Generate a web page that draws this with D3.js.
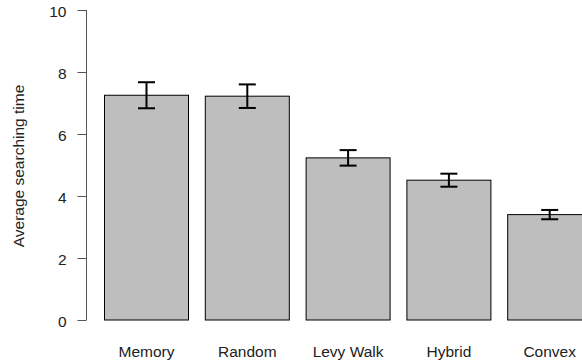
<!DOCTYPE html>
<html>
<head>
<meta charset="utf-8">
<script src="https://cdn.jsdelivr.net/npm/d3@7"></script>
<style>
  html, body { margin: 0; padding: 0; background: #fff; }
  svg { display: block; }
  text { font-family: "Liberation Sans", Arial, sans-serif; }
</style>
</head>
<body>
<script>
// Search strategies and their mean searching time with standard error
const categories = ["Memory", "Random", "Levy Walk", "Hybrid", "Convex"];
const means = [7.25, 7.22, 5.23, 4.51, 3.40];
const errors = [0.42, 0.38, 0.25, 0.21, 0.15];
const yTicks = [0, 2, 4, 6, 8, 10];
const yLabel = "Average searching time";

const W = 582, H = 362;
const FS = "15.5px";
const svg = d3.select("body").append("svg")
  .attr("width", W).attr("height", H);

const y = d3.scaleLinear().domain([0, 10]).range([320, 10]);
const x = d3.scaleBand().domain(categories)
  .range([104.5, 591.7]).paddingInner(1 / 6).paddingOuter(0);

const data = categories.map((c, i) => ({ c, m: means[i], e: errors[i] }));

// bars
svg.append("g").selectAll("rect").data(data).join("rect")
  .attr("x", d => x(d.c))
  .attr("y", d => y(d.m))
  .attr("width", x.bandwidth())
  .attr("height", d => y(0) - y(d.m))
  .attr("fill", "#bebebe")
  .attr("stroke", "#000")
  .attr("stroke-width", 1);

// error bars
const eb = svg.append("g").attr("stroke", "#000").attr("stroke-width", 2);
const cap = 8.5;
data.forEach(d => {
  const cx = x(d.c) + x.bandwidth() / 2;
  eb.append("line").attr("x1", cx).attr("x2", cx)
    .attr("y1", y(d.m - d.e)).attr("y2", y(d.m + d.e));
  eb.append("line").attr("x1", cx - cap).attr("x2", cx + cap)
    .attr("y1", y(d.m + d.e)).attr("y2", y(d.m + d.e));
  eb.append("line").attr("x1", cx - cap).attr("x2", cx + cap)
    .attr("y1", y(d.m - d.e)).attr("y2", y(d.m - d.e));
});

// y axis
const yAxis = svg.append("g").attr("transform", "translate(86.5,0)")
  .call(d3.axisLeft(y).tickValues(yTicks).tickFormat(d3.format("d"))
    .tickSize(9).tickSizeOuter(0).tickPadding(11));
yAxis.select(".domain").attr("stroke", "#555").attr("d", `M0,${y(0)}V${y(10)}`);
yAxis.selectAll(".tick line").attr("stroke", "#555");
yAxis.selectAll(".tick text").attr("fill", "#222")
  .attr("dy", "0.4em")
  .style("font-size", FS);

// category labels
svg.append("g").selectAll("text").data(categories).join("text")
  .attr("x", d => x(d) + x.bandwidth() / 2)
  .attr("y", 356.5)
  .attr("text-anchor", "middle")
  .attr("fill", "#222")
  .style("font-size", FS)
  .text(d => d);

// y axis title
svg.append("text")
  .attr("transform", "translate(24,166) rotate(-90)")
  .attr("text-anchor", "middle")
  .attr("fill", "#222")
  .style("font-size", FS)
  .text(yLabel);
</script>
</body>
</html>
